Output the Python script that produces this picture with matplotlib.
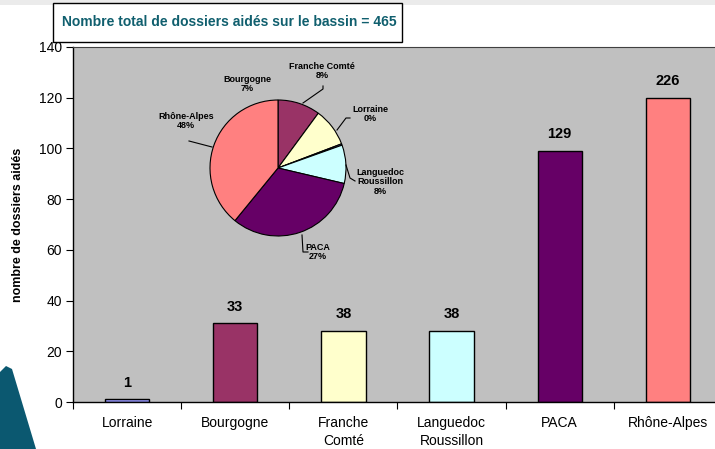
import matplotlib
matplotlib.use('Agg')

import matplotlib.pyplot as plt
from matplotlib.patches import Rectangle, Polygon

plt.rcParams['font.family'] = ['Liberation Sans', 'DejaVu Sans']

# bar chart data (drawn heights and the printed labels)
regions = ["Lorraine", "Bourgogne", "Franche\nComté", "Languedoc\nRoussillon", "PACA", "Rhône-Alpes"]
bar_heights = [1, 31, 28, 28, 99, 120]
bar_labels = ["1", "33", "38", "38", "129", "226"]
bar_colors = ["#9999FF", "#993366", "#FFFFCC", "#CCFFFF", "#660066", "#FF8080"]

# pie data (clockwise from the top)
pie_names = ["Bourgogne", "Franche Comté", "Lorraine", "Languedoc\nRoussillon", "PACA", "Rhône-Alpes"]
pie_values = [31, 28, 1, 28, 99, 120]
pie_pcts = ["7%", "8%", "0%", "8%", "27%", "48%"]
pie_colors = ["#993366", "#FFFFCC", "#9999FF", "#CCFFFF", "#660066", "#FF8080"]

W, H = 715, 449


def fx(px):
    return px / W


def fy(py):
    return 1 - py / H


fig = plt.figure(figsize=(W / 100, H / 100), dpi=100)
fig.patch.set_facecolor('white')

# light strip at the top and teal decoration at bottom-left
fig.patches.append(Rectangle((0, fy(5)), 1, 5 / H, transform=fig.transFigure,
                             facecolor="#EBEBEB", edgecolor='none', zorder=0))
deco = [(0, 372), (6, 366), (12, 369), (36, 449), (0, 449)]
fig.patches.append(Polygon([(fx(x), fy(y)) for x, y in deco], closed=True,
                           transform=fig.transFigure, facecolor="#0B5870",
                           edgecolor='none', zorder=0))

ax = fig.add_axes([fx(73), fy(402), (722 - 73) / W, (402 - 47) / H])
ax.set_facecolor("#C0C0C0")

xs = list(range(len(regions)))
ax.bar(xs, bar_heights, width=0.41, color=bar_colors, edgecolor='black',
       linewidth=1, zorder=2)
for x, h, lab in zip(xs, bar_heights, bar_labels):
    ax.annotate(lab, (x, h), xytext=(0, 7), textcoords='offset points',
                ha='center', va='bottom', fontsize=10.5, fontweight='bold')

ax.set_xlim(-0.5, 5.5)
ax.set_ylim(0, 140)
ax.set_yticks(range(0, 141, 20))
ax.tick_params(axis='y', labelsize=10, length=5, width=0.8, pad=3)
ax.set_xticks([i - 0.5 for i in range(7)])
ax.set_xticklabels([])
ax.tick_params(axis='x', which='major', length=5, width=0.8)
ax.set_xticks(xs, minor=True)
ax.set_xticklabels(regions, minor=True, fontsize=10, linespacing=1.4)
ax.tick_params(axis='x', which='minor', length=0, pad=10)
for s in ['left', 'bottom']:
    ax.spines[s].set_linewidth(1.0)
ax.spines['top'].set_color('#404040')
ax.spines['right'].set_visible(False)

ax.set_ylabel("nombre de dossiers aidés", fontsize=9, fontweight='bold')
ax.yaxis.set_label_coords((24 - 73) / (722 - 73), 0.5)

# title box
fig.patches.append(Rectangle((fx(53), fy(42)), (402 - 53) / W, (42 - 3) / H,
                             transform=fig.transFigure, facecolor='white',
                             edgecolor='black', linewidth=1, zorder=5))
fig.text(fx(62), fy(22), "Nombre total de dossiers aidés sur le bassin = 465",
         fontsize=10, fontweight='bold', color="#105F6E", va='center',
         ha='left', zorder=6)

# pie inset
pax = fig.add_axes([fx(210), fy(236), 136 / W, 136 / H])
pax.pie(pie_values, colors=pie_colors, startangle=90, counterclock=False,
        wedgeprops=dict(edgecolor='black', linewidth=0.8))
pax.set_xlim(-1, 1)
pax.set_ylim(-1, 1)
pax.axis('off')

# pie labels and leader lines (figure pixel positions)
label_pos = [(247, 84), (322, 71), (370, 114), (380, 182), (318, 252), (186, 121)]
leaders = [None,
           [(323, 86), (323, 89), (303, 103)],
           [(350, 118), (346, 118), (337, 130)],
           [(355, 181), (350, 178), (346, 165)],
           [(308, 252), (303, 252), (302, 235)],
           [(189, 141), (212, 147)]]
for name, pct, (x, y), ld in zip(pie_names, pie_pcts, label_pos, leaders):
    fig.text(fx(x), fy(y), name + "\n" + pct, fontsize=6.5, fontweight='bold',
             ha='center', va='center', linespacing=1.1)
    if ld:
        fig.lines.append(plt.Line2D([fx(p[0]) for p in ld], [fy(p[1]) for p in ld],
                                    transform=fig.transFigure, color='black',
                                    linewidth=0.8))

fig.savefig("out.png", dpi=100)
